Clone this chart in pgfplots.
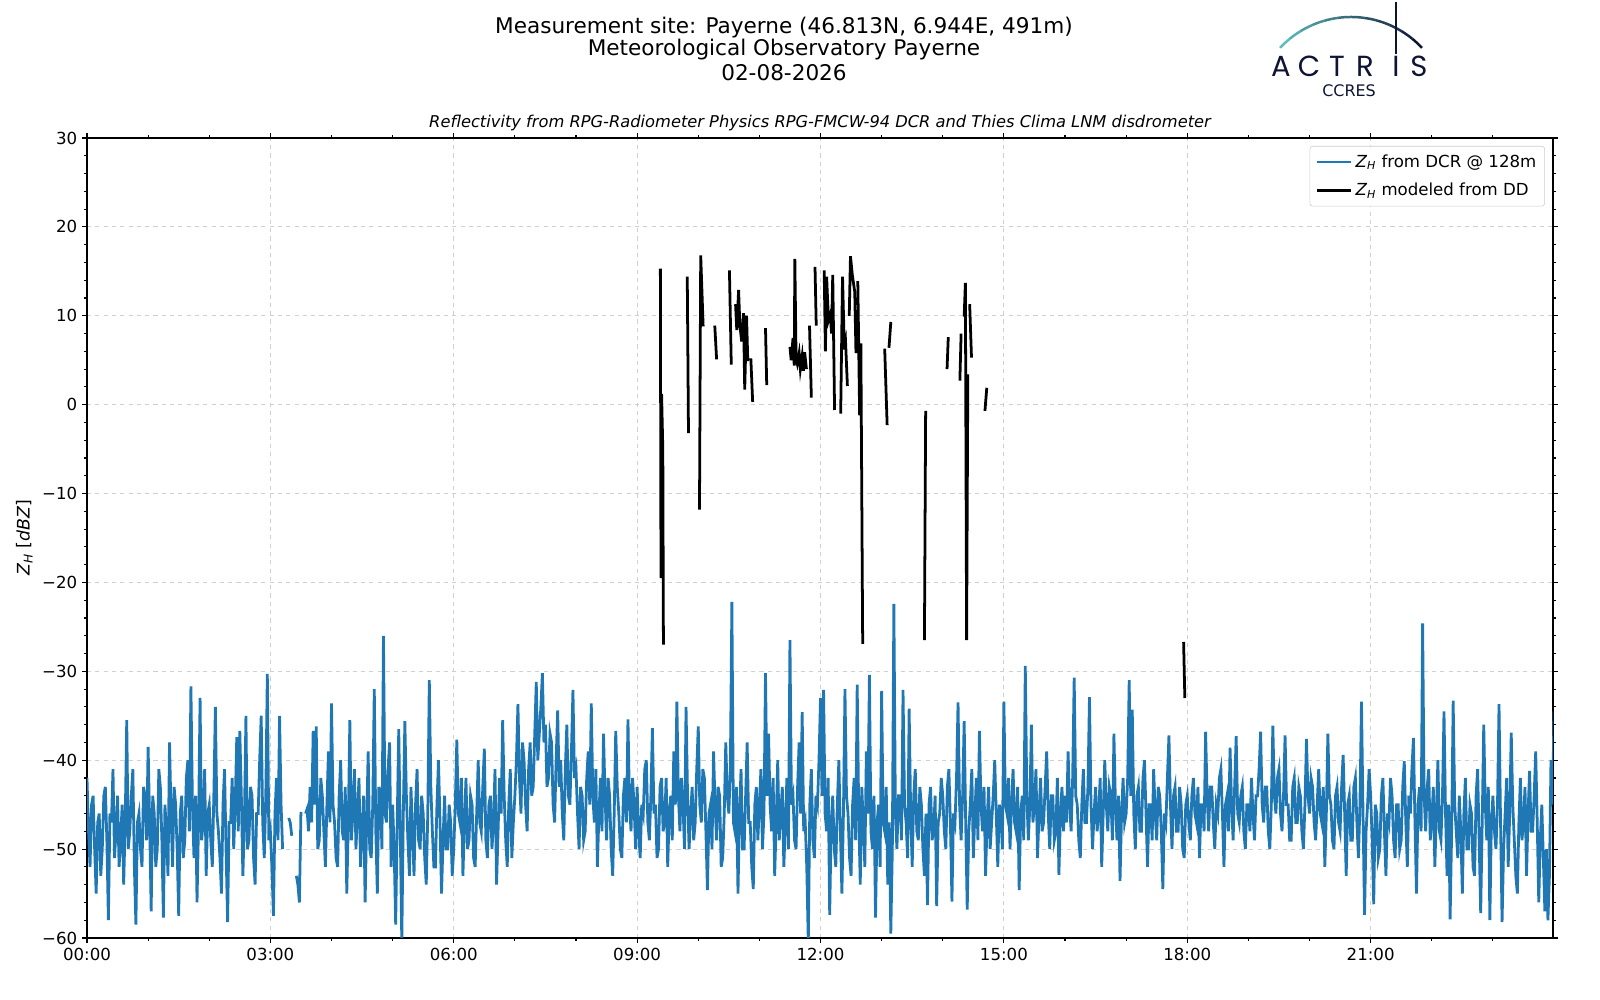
\documentclass[border=0pt]{standalone}
\usepackage{fontspec}
\setmainfont{DejaVu Sans}
\newfontfamily\logofont{Poppins}
\usepackage{pgfplots}
\usepackage{pgfplotstable}
\usetikzlibrary{calc}
\pgfplotsset{compat=1.18}
\definecolor{mplblue}{HTML}{1F77B4}
\definecolor{navy}{HTML}{0D1434}
\definecolor{tealA}{HTML}{5CBDB9}
\definecolor{gridc}{HTML}{D0D0D0}

% Z_H from DCR, one value every 1.5 minutes (0.025 h), one row per hour, nan = no data
\pgfplotstableread[row sep=\\]{z\\
-42\\ -48\\ -52\\ -45\\ -44\\ -50\\ -55\\ -47\\ -46\\ -53\\ -50\\ -44\\ -43\\ -49\\ -58\\ -46\\ -47\\ -41\\ -51\\ -48\\ -44\\ -52\\ -49\\ -45\\ -54\\ -47\\ -35.5\\ -50\\ -48\\ -44\\ -41\\ -52\\ -58.5\\ -47\\ -46\\ -50\\ -52\\ -43\\ -44\\ -49\\
-38.5\\ -47\\ -57\\ -44\\ -46\\ -52\\ -50\\ -41\\ -43\\ -49\\ -57.7\\ -45\\ -48\\ -53\\ -38\\ -46\\ -52\\ -43\\ -45\\ -50\\ -57.5\\ -46\\ -44\\ -51\\ -49\\ -42\\ -40\\ -48\\ -31.7\\ -45\\ -51\\ -44\\ -56\\ -47\\ -33\\ -49\\ -47\\ -41\\ -53\\ -46\\
-45\\ -49\\ -52\\ -44\\ -34\\ -46\\ -48\\ -51\\ -55\\ -45\\ -41\\ -50\\ -58.2\\ -47\\ -47\\ -42\\ -50\\ -45\\ -37.4\\ -48\\ -36.7\\ -44\\ -53\\ -47\\ -35\\ -50\\ -49\\ -43\\ -44\\ -51\\ -54\\ -46\\ -46\\ -40\\ -35\\ -47\\ -51\\ -44\\ -30.3\\ -49\\
-48\\ -52\\ -57.5\\ -46\\ -42\\ -49\\ -35\\ -45\\ -50\\ nan\\ nan\\ nan\\ -46.5\\ -47\\ -48.5\\ nan\\ nan\\ -53\\ -54\\ -56\\ -45.8\\ nan\\ nan\\ -46\\ -45.5\\ -48\\ -43\\ -47\\ -36.7\\ -45\\ -36.2\\ -50\\ -49\\ -42\\ -44\\ -48\\ -52\\ -45\\ -39\\ -47\\
-33.6\\ -45\\ -47\\ -51\\ -52\\ -44\\ -40\\ -48\\ -49\\ -43\\ -55\\ -47\\ -35.5\\ -49\\ -46\\ -41\\ -50\\ -46\\ -42\\ -52\\ -48\\ -44\\ -56\\ -47\\ -39\\ -50\\ -51\\ -45\\ -32\\ -48\\ -55\\ -43\\ -44\\ -50\\ -26\\ -46\\ -47\\ -41\\ -38\\ -52\\
-45\\ -50\\ -58.5\\ -47\\ -36.5\\ -48\\ -60.5\\ -46\\ -35.6\\ -44\\ -49\\ -53\\ -43\\ -48\\ -53\\ -45\\ -41\\ -49\\ -50\\ -44\\ -46\\ -51\\ -54\\ -46\\ -31\\ -43\\ -48\\ -52\\ -52\\ -45\\ -40\\ -47\\ -55\\ -49\\ -44\\ -50\\ -50\\ -45\\ -47\\ -53\\
-50\\ -45\\ -37.7\\ -46\\ -47\\ -42\\ -53\\ -47\\ -42\\ -50\\ -49\\ -44\\ -45\\ -51\\ -52\\ -46\\ -40\\ -47\\ -48\\ -43\\ -38.7\\ -49\\ -51\\ -45\\ -44\\ -50\\ -47\\ -41\\ -54\\ -48\\ -42\\ -46\\ -35.5\\ -44\\ -49\\ -52\\ -45\\ -41\\ -51\\ -47\\
-44\\ -40\\ -33.7\\ -42\\ -46\\ -38\\ -40\\ -45\\ -48\\ -41\\ -38\\ -44\\ -43\\ -37\\ -31.2\\ -40\\ -37\\ -34\\ -30.2\\ -38\\ -36\\ -43\\ -42\\ -37\\ -38\\ -45\\ -47\\ -40\\ -34.4\\ -43\\ -40\\ -46\\ -49\\ -41\\ -36\\ -44\\ -45\\ -39\\ -32.1\\ -42\\
-41\\ -46\\ -50\\ -43\\ -44\\ -49\\ -48\\ -42\\ -39\\ -45\\ -33.6\\ -44\\ -47\\ -41\\ -52\\ -46\\ -42\\ -48\\ -37\\ -44\\ -49\\ -42\\ -44\\ -50\\ -53\\ -46\\ -36.7\\ -43\\ -46\\ -50\\ -51\\ -44\\ -42\\ -47\\ -35.4\\ -45\\ -48\\ -42\\ -45\\ -50\\
-43\\ -48\\ -51\\ -45\\ -46\\ -41\\ -40\\ -47\\ -49\\ -44\\ -36.4\\ -46\\ -45\\ -51\\ -50\\ -43\\ -42\\ -48\\ -47\\ -42\\ -52\\ -46\\ -44\\ -49\\ -39\\ -45\\ -33.4\\ -44\\ -48\\ -42\\ -45\\ -50\\ -34\\ -44\\ -50\\ -46\\ -43\\ -49\\ -47\\ -41\\
-36.2\\ -45\\ -47\\ -41\\ -42\\ -48\\ -54.6\\ -46\\ -45\\ -50\\ -39\\ -45\\ -49\\ -43\\ -44\\ -52\\ -51\\ -46\\ -38\\ -44\\ -46\\ -41\\ -22.2\\ -47\\ -48\\ -43\\ -55\\ -46\\ -41\\ -50\\ -50\\ -44\\ -38\\ -47\\ -47\\ -52\\ -54.5\\ -45\\ -43\\ -49\\
-45\\ -41\\ -50\\ -46\\ -30.2\\ -44\\ -37\\ -45\\ -48\\ -42\\ -53\\ -47\\ -40\\ -49\\ -46\\ -43\\ -52\\ -47\\ -42\\ -50\\ -26.5\\ -45\\ -44\\ -49\\ -50\\ -43\\ -38\\ -46\\ -34.6\\ -48\\ -47\\ -52\\ -60.5\\ -45\\ -41\\ -49\\ -51\\ -44\\ -45\\ -40\\
-33\\ -44\\ -32.1\\ -46\\ -48\\ -42\\ -57.4\\ -47\\ -44\\ -50\\ -52\\ -45\\ -40\\ -48\\ -55\\ -46\\ -32\\ -44\\ -46\\ -51\\ -53\\ -45\\ -42\\ -49\\ -31.5\\ -46\\ -54\\ -43\\ -47\\ -52\\ -39\\ -46\\ -30.4\\ -48\\ -50\\ -44\\ -57.7\\ -47\\ -45\\ -52\\
-32.2\\ -47\\ -48\\ -43\\ -54\\ -47\\ -59.5\\ -50\\ -22.4\\ -46\\ -50\\ -44\\ -44\\ -49\\ -32.1\\ -45\\ -47\\ -51\\ -34.2\\ -46\\ -52\\ -44\\ -41\\ -48\\ -49\\ -43\\ -45\\ -50\\ -53\\ -46\\ -56.3\\ -45\\ -43\\ -49\\ -48\\ -44\\ -56.4\\ -47\\ -46\\ -42\\
-44\\ -48\\ -50\\ -43\\ -41\\ -47\\ -55.9\\ -46\\ -47\\ -42\\ -33.5\\ -45\\ -49\\ -44\\ -35.6\\ -47\\ -56.8\\ -48\\ -45\\ -41\\ -51\\ -46\\ -42\\ -49\\ -36.7\\ -45\\ -48\\ -43\\ -53\\ -47\\ -43\\ -50\\ -47\\ -44\\ -40\\ -46\\ -52\\ -45\\ -46\\ -50\\
-33.4\\ -45\\ -46\\ -42\\ -50\\ -45\\ -41\\ -47\\ -48\\ -43\\ -54.6\\ -46\\ -44\\ -49\\ -29.4\\ -44\\ -49\\ -45\\ -36\\ -47\\ -45\\ -41\\ -51\\ -46\\ -42\\ -48\\ -47\\ -43\\ -39\\ -46\\ -50\\ -44\\ -44\\ -49\\ -48\\ -42\\ -52.9\\ -46\\ -43\\ -48\\
-44\\ -47\\ -39\\ -45\\ -48\\ -42\\ -30.7\\ -44\\ -45\\ -49\\ -51\\ -45\\ -41\\ -47\\ -47\\ -43\\ -32.9\\ -45\\ -50\\ -46\\ -43\\ -48\\ -46\\ -42\\ -52\\ -46\\ -40\\ -45\\ -48\\ -43\\ -44\\ -49\\ -37\\ -45\\ -49\\ -44\\ -53.6\\ -46\\ -42\\ -47\\
-46\\ -42\\ -31\\ -44\\ -34.3\\ -46\\ -50\\ -44\\ -43\\ -48\\ -48\\ -42\\ -40\\ -46\\ -52\\ -45\\ -45\\ -49\\ -41\\ -46\\ -49\\ -43\\ -44\\ -48\\ -54.5\\ -46\\ -47\\ -42\\ -37.2\\ -45\\ -50\\ -44\\ -43\\ -48\\ -48\\ -43\\ -45\\ -50\\ -51\\ -45\\
-44\\ -47\\ -49\\ -44\\ -42\\ -46\\ -47\\ -43\\ -51\\ -45\\ -45\\ -48\\ -36.8\\ -44\\ -48\\ -43\\ -43\\ -47\\ -50\\ -45\\ -46\\ -42\\ -41\\ -46\\ -52\\ -45\\ -44\\ -48\\ -38.6\\ -45\\ -49\\ -43\\ -37.3\\ -46\\ -47\\ -44\\ -43\\ -48\\ -50\\ -45\\
-45\\ -48\\ -42\\ -46\\ -49\\ -44\\ -44\\ -41\\ -36.8\\ -45\\ -47\\ -43\\ -43\\ -48\\ -50\\ -45\\ -36.1\\ -44\\ -46\\ -42\\ -41\\ -46\\ -48\\ -44\\ -37.2\\ -45\\ -45\\ -49\\ -49\\ -43\\ -42\\ -47\\ -47\\ -43\\ -44\\ -48\\ -50\\ -45\\ -37.6\\ -44\\
-46\\ -42\\ -43\\ -47\\ -49\\ -45\\ -41\\ -46\\ -47\\ -43\\ -52\\ -46\\ -37\\ -44\\ -45\\ -49\\ -50\\ -44\\ -43\\ -47\\ -48\\ -43\\ -39.4\\ -46\\ -53\\ -45\\ -44\\ -49\\ -49\\ -43\\ -42\\ -47\\ -51\\ -45\\ -33.4\\ -46\\ -57.4\\ -48\\ -45\\ -41\\
-44\\ -49\\ -56.2\\ -45\\ -46\\ -51\\ -50\\ -44\\ -42\\ -48\\ -53\\ -46\\ -47\\ -42\\ -44\\ -49\\ -51\\ -45\\ -45\\ -50\\ -49\\ -43\\ -40.1\\ -47\\ -52\\ -44\\ -46\\ -41\\ -37.5\\ -47\\ -55\\ -45\\ -43\\ -48\\ -24.6\\ -44\\ -48\\ -43\\ -41\\ -49\\
-47\\ -43\\ -52\\ -46\\ -40\\ -48\\ -49\\ -44\\ -34.5\\ -46\\ -53\\ -45\\ -57.9\\ -48\\ -33.3\\ -45\\ -48\\ -51\\ -44\\ -48\\ -55\\ -46\\ -42\\ -50\\ -50\\ -45\\ -46\\ -52\\ -53\\ -44\\ -41\\ -49\\ -57.2\\ -47\\ -36\\ -45\\ -49\\ -43\\ -58\\ -47\\
-44\\ -48\\ -50\\ -45\\ -33.7\\ -47\\ -58.2\\ -50\\ -46\\ -42\\ -52\\ -46\\ -36.9\\ -45\\ -49\\ -53\\ -55\\ -47\\ -42\\ -49\\ -47\\ -43\\ -53\\ -46\\ -41.2\\ -48\\ -48\\ -44\\ -39\\ -47\\ -56\\ -49\\ -45\\ -51\\ -57\\ -50\\ -58\\ -53\\ -40\\ -45\\ -34.5\\
}\dcr

\begin{document}
\begin{tikzpicture}[x=0.7227pt,y=0.7227pt]

% titles
\node[font=\fontsize{15.6}{17}\selectfont] at (784,972) {Measurement site: Payerne (46.813N, 6.944E, 491m)};
\node[font=\fontsize{15.6}{17}\selectfont] at (784,950) {Meteorological Observatory Payerne};
\node[font=\fontsize{15.6}{17}\selectfont] at (784,927) {02-08-2026};
\node[font=\itshape\fontsize{11.75}{14}\selectfont] at (820,877) {Reflectivity from RPG-Radiometer Physics RPG-FMCW-94 DCR and Thies Clima LNM disdrometer};

% ACTRIS logo
\foreach \i in {0,...,11}{
  \pgfmathsetmacro{\aa}{137-\i*94/12}
  \pgfmathsetmacro{\ab}{137-(\i+1)*94/12}
  \pgfmathsetmacro{\mix}{100-\i*100/11}
  \draw[line width=1.8pt, color=tealA!\mix!navy] ($(1351,886)+(\aa:97)$) arc[start angle=\aa, end angle=\ab, radius=97];
}
\draw[line width=1.2pt, navy] (1396,998) -- (1396,946);
\begin{scope}[font=\logofont\fontsize{21}{24}\selectfont, text=navy]
\node at (1281,934) {A};
\node at (1309,934) {C};
\node at (1337,934) {T};
\node at (1365,934) {R};
\node at (1396,934) {I};
\node at (1419,934) {S};
\end{scope}
\node[font=\fontsize{11.5}{13}\selectfont, text=navy] at (1349,909) {CCRES};

\begin{axis}[
  at={(62.875pt,44.807pt)}, anchor=south west,
  scale only axis, width=1059.48pt, height=578.16pt,
  xmin=0, xmax=23.983, ymin=-60, ymax=30,
  xtick={0,3,...,21},
  xticklabels={00:00,03:00,06:00,09:00,12:00,15:00,18:00,21:00},
  minor xtick={1,2,4,5,7,8,10,11,13,14,16,17,19,20,22,23},
  ytick={-60,-50,...,30},
  yticklabels={−60,−50,−40,−30,−20,−10,0,10,20,30},
  minor y tick num=4,
  tick align=outside,
  major tick length=3.5pt, minor tick length=2pt,
  every tick/.style={black, line width=0.8pt},
  axis line style={line width=0.8pt},
  tick label style={font=\fontsize{12}{14}\selectfont},
  xmajorgrids, ymajorgrids,
  major grid style={gridc, dashed, line width=0.6pt},
  ylabel={\textit{Z}\textsubscript{\textit{H}} [\textit{dBZ}]},
  ylabel style={font=\fontsize{12.5}{14}\selectfont},
  unbounded coords=jump,
  no markers,
  clip=true,
  legend cell align=left,
  legend style={at={(0.9945,0.99)}, anchor=north east, draw=black!20, rounded corners=2pt,
    font=\fontsize{12}{14}\selectfont, inner sep=4pt, row sep=6pt},
  legend image code/.code={\draw[#1] (0pt,0pt) -- (25pt,0pt);},
]
\addplot[mplblue, line width=2pt] table[x expr=\coordindex/40, y=z] {\dcr};
\addlegendentry{\textit{Z}\textsubscript{\textit{H}} from DCR @ 128m}
\addplot[black, line width=2pt] coordinates {
(9.38,15.3) (9.39,-19.5) (9.40,1.2) (9.42,-5) (9.43,-27) (9.5,nan)
(9.82,14.4) (9.84,-3.2) (9.9,nan)
(10.02,-11.8) (10.04,16.8) (10.08,8.8) (10.15,nan)
(10.27,8.9) (10.30,5.1) (10.4,nan)
(10.51,15.1) (10.54,4.5) (10.58,nan)
(10.61,11.3) (10.63,8.4) (10.66,12.9) (10.68,9.0) (10.71,7.1) (10.74,10.3) (10.76,1.7) (10.79,10.0) (10.81,4.9) (10.84,nan)
(10.86,5.2) (10.89,0.3) (10.95,nan)
(11.10,8.6) (11.12,2.2) (11.2,nan)
(11.50,6.5) (11.52,5.0) (11.55,7.5) (11.57,4.4) (11.58,16.4) (11.60,5.2) (11.62,4.6) (11.65,5.8) (11.67,4.0) (11.70,5.5) (11.72,3.8) (11.74,5.9) (11.77,4.0) (11.8,nan)
(11.82,8.9) (11.85,0.8) (11.88,nan)
(11.91,15.5) (11.93,8.9) (11.98,nan)
(12.06,15.1) (12.08,6.0) (12.10,14.4) (12.13,9.5) (12.16,10.2) (12.18,8.0) (12.20,14.6) (12.23,-0.6) (12.28,nan)
(12.33,-1.0) (12.36,14.4) (12.39,6.2) (12.41,7.0) (12.44,2.1) (12.455,nan)
(12.47,10.0) (12.49,16.7) (12.52,14.6) (12.56,12.7) (12.58,5.8) (12.595,nan)
(12.61,13.9) (12.64,-1.2) (12.66,6.9) (12.69,-26.9) (12.8,nan)
(13.05,6.3) (13.09,-2.3) (13.1,nan)
(13.12,6.4) (13.15,9.3) (13.3,nan)
(13.70,-26.5) (13.72,-0.7) (13.9,nan)
(14.07,4.0) (14.09,7.6) (14.2,nan)
(14.28,2.7) (14.30,8.0) (14.32,nan)
(14.35,9.9) (14.37,13.7) (14.39,-26.5) (14.41,3.4) (14.42,nan)
(14.44,11.3) (14.47,5.3) (14.6,nan)
(14.69,-0.7) (14.72,1.9) (15,nan)
(17.94,-26.7) (17.96,-33)
};
\addlegendentry{\textit{Z}\textsubscript{\textit{H}} modeled from DD}
\end{axis}
\pgfresetboundingbox
\path[use as bounding box] (0,0) rectangle (1600,1000);
\end{tikzpicture}
\end{document}
